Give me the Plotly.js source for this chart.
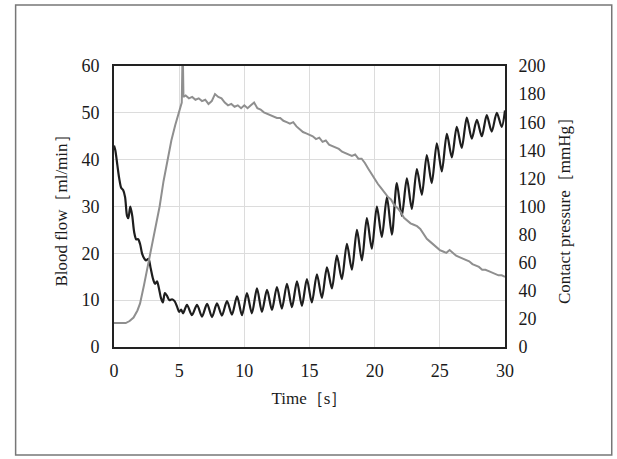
<!DOCTYPE html>
<html>
<head>
<meta charset="utf-8">
<script src="https://cdn.plot.ly/plotly-3.0.1.min.js"></script>
<style>html,body{margin:0;padding:0;background:#fff;}#chart{width:617px;height:459px;}</style>
</head>
<body>
<div id="chart"></div>
<script>
// Blood flow [ml/min] (left axis)
var flowTime = [0,0.1,0.25,0.4,0.55,0.7,0.85,1.0,1.1,1.25,1.4,1.55,1.7,1.85,2.0,2.15,2.3,2.45,2.65,2.8,3.0,3.15,3.3,3.45,3.6,3.75,3.9,4.05,4.25,4.45,4.65,4.85,5.0,5.15,5.3,
5.6,5.98,6.37,6.75,7.14,7.52,7.9,8.28,8.67,9.05,9.44,9.82,10.2,10.58,10.97,11.35,11.74,12.12,12.5,12.88,13.27,13.65,14.04,14.42,14.8,15.18,15.57,15.95,16.34,16.72,17.1,17.48,17.87,18.25,18.64,19.02,19.4,19.78,20.17,20.55,20.94,21.32,21.7,22.08,22.47,22.85,23.24,23.62,24.0,24.38,24.77,25.15,25.54,25.92,26.3,26.68,27.07,27.45,27.84,28.22,28.6,28.98,29.37,29.75,30.0];
var flowValue = [43,42,39,36,34,33.5,32,28,27.5,30,28,24.5,23,23,22,20,19,18.5,18.8,17,14.5,13.5,14,12.5,10.5,9.5,11.5,11,10,10.2,9.8,8.5,7.5,8,7.2,
9,6.8,9,6.5,9.2,6.4,9.3,6.7,9.8,6.9,10.8,6.8,11.5,7.2,12.5,7.5,12.2,7.9,12.8,8.2,13.5,8.5,14,8.8,14.5,9.5,15.5,10.5,17,12.5,19.5,14.5,22,16.5,25,18.5,27.5,21,30,23.5,32,24,35,28,36,29.5,38,32.5,41,35,43.5,37.5,45.5,40.5,47,42.5,49,44.5,48.5,45,49.5,46,50,47,50.5];

// Contact pressure [mmHg] (right axis)
var pressTime = [0,0.5,0.9,1.2,1.5,1.8,2.0,2.3,2.6,2.9,3.2,3.5,3.8,4.1,4.4,4.7,5.0,5.2,5.27,5.29,5.33,
5.5,5.75,6.0,6.25,6.5,6.75,7.0,7.25,7.5,7.75,8.0,8.25,8.5,8.75,9.0,9.25,9.5,9.75,10.0,10.25,10.5,10.75,11.0,11.25,11.5,11.75,12.0,12.25,12.5,12.75,13.0,13.25,13.5,13.75,14.0,14.25,14.5,14.75,15.0,15.25,15.5,15.75,16.0,16.25,16.5,16.75,17.0,17.25,17.5,17.75,18.0,18.25,18.5,18.75,19.0,19.25,19.5,19.75,20.0,20.25,20.5,20.75,21.0,21.25,21.5,21.75,22.0,22.25,22.5,22.75,23.0,23.25,23.5,23.75,24.0,24.25,24.5,24.75,25.0,25.25,25.5,25.75,26.0,26.25,26.5,26.75,27.0,27.25,27.5,27.75,28.0,28.25,28.5,28.75,29.0,29.25,29.5,29.75,30.0];
var pressValue = [17,17,17,18.5,21,26,31,44,58,72,85,100,118,134,147,158,168,174,215,215,178,
179,177,178,176,177,175,176,173,175,180,178,177,174,172,173,171,172,170,172,170,172,174,170,169,167,166,165,164,163,163,161,160,159,160,157,155,153,152,151,150,148,149,146,147,144,143,142,141,139,138,137,136,137,134,134,131,127,123,120,116,113,110,107,105,101,99,96,92,90,88,87,86,84,80,77,75,73,71,69,68,67,69,67,65,64,63,62,61,59,58,57,55,55,54,53,52,51,51,50];

var xTicks = [0,5,10,15,20,25,30];
var leftTicks = [0,10,20,30,40,50,60];
var rightTicks = [0,20,40,60,80,100,120,140,160,180,200];

var font = {family: '"Liberation Serif", "Times New Roman", serif', size: 17, color: '#1a1a1a'};
var tickFont = {family: '"Liberation Serif", "Times New Roman", serif', size: 18, color: '#1a1a1a'};

var traces = [
  {x: pressTime, y: pressValue, yaxis: 'y2', type: 'scatter', mode: 'lines',
   line: {color: '#8f8f8f', width: 2}, name: 'Contact pressure'},
  {x: flowTime, y: flowValue, yaxis: 'y', type: 'scatter', mode: 'lines',
   line: {color: '#1e1e1e', width: 2.2, shape: 'spline', smoothing: 0.8}, name: 'Blood flow'}
];

var layout = {
  width: 617, height: 459,
  margin: {l: 113.5, r: 112, t: 66, b: 112, pad: 0},
  paper_bgcolor: '#fff', plot_bgcolor: '#fff',
  showlegend: false,
  font: font,
  xaxis: {
    range: [0, 30], tickvals: xTicks, ticktext: xTicks.map(String),
    showgrid: true, gridcolor: '#dcdcdc', gridwidth: 1,
    zeroline: false, showline: true, linecolor: '#222', linewidth: 2, mirror: true,
    ticks: 'outside', ticklen: 6, tickcolor: 'rgba(0,0,0,0)',
    tickfont: tickFont,
    title: {text: 'Time［s］', font: font, standoff: 13}
  },
  yaxis: {
    range: [0, 60], tickvals: leftTicks, ticktext: leftTicks.map(String),
    showgrid: true, gridcolor: '#dcdcdc', gridwidth: 1,
    zeroline: false, showline: true, linecolor: '#222', linewidth: 2, mirror: true,
    ticks: 'outside', ticklen: 9, tickcolor: 'rgba(0,0,0,0)',
    tickfont: tickFont,
    title: {text: 'Blood flow［ml/min］', font: font, standoff: 9}
  },
  yaxis2: {
    range: [0, 200], tickvals: rightTicks, ticktext: rightTicks.map(String),
    overlaying: 'y', side: 'right',
    showgrid: false, zeroline: false, showline: false,
    ticks: 'outside', ticklen: 9, tickcolor: 'rgba(0,0,0,0)',
    tickfont: tickFont,
    title: {text: 'Contact pressure［mmHg］', font: font, standoff: 13}
  },
  shapes: [
    {type: 'rect', xref: 'paper', yref: 'paper', x0: -0.2516, x1: 1.273, y0: -0.384, y1: 1.217,
     line: {color: '#777', width: 1.5}, fillcolor: 'rgba(0,0,0,0)', layer: 'below'}
  ]
};

Plotly.newPlot('chart', traces, layout, {displayModeBar: false, staticPlot: true});
</script>
</body>
</html>
